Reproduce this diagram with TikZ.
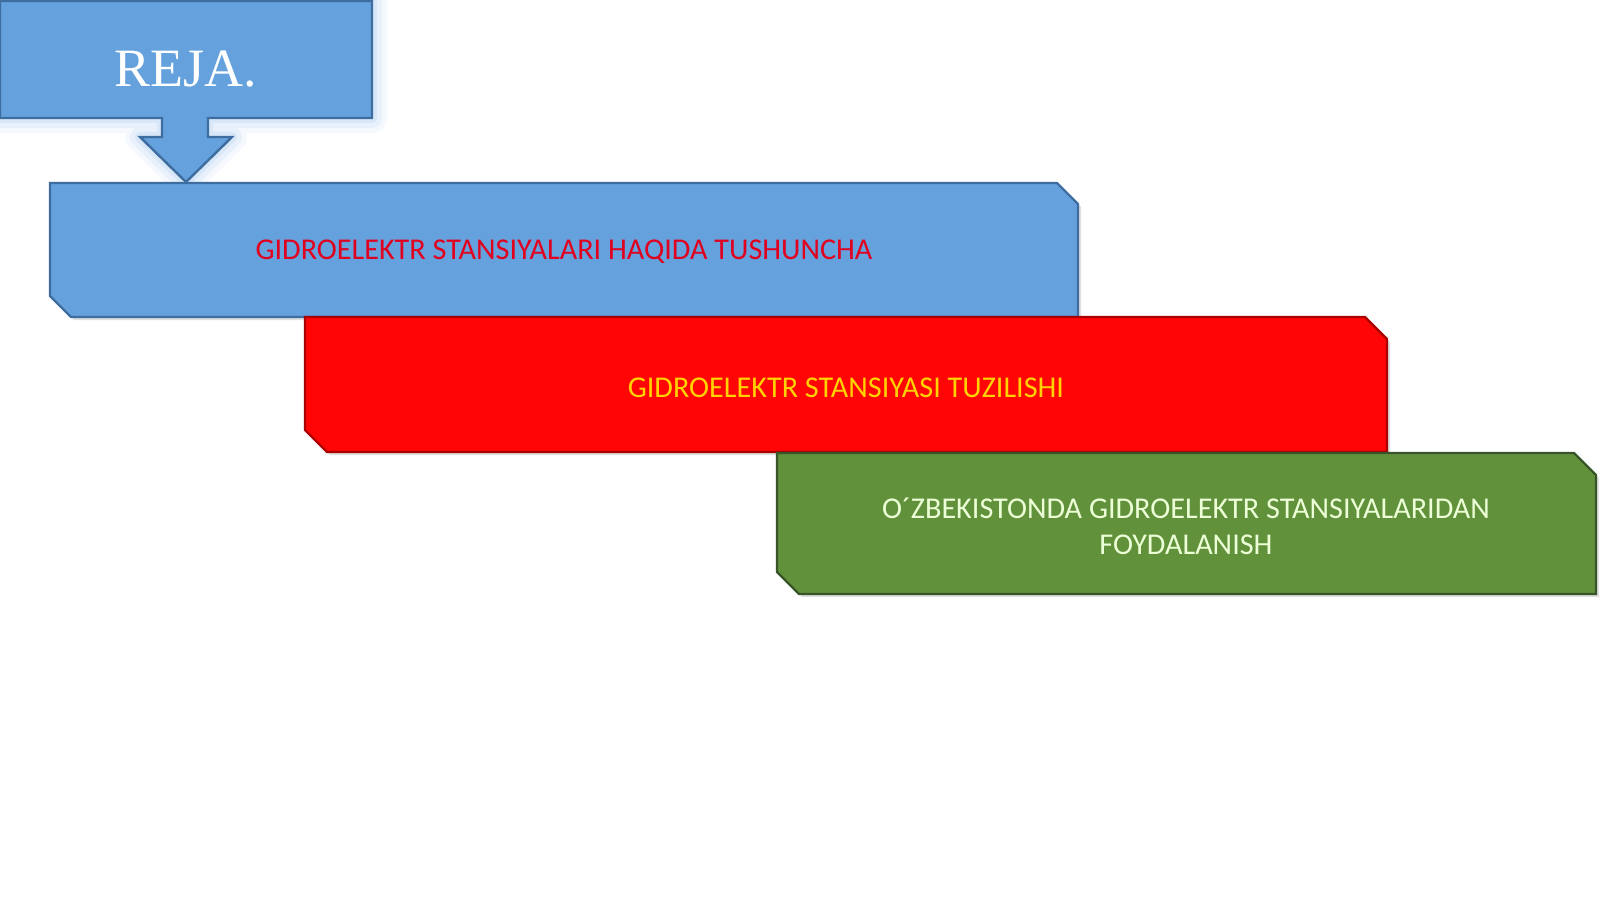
\documentclass[tikz,border=0pt]{standalone}
\usepackage{fontspec}
\setmainfont{Carlito}
\newfontfamily\rejafont{Liberation Serif}
\usetikzlibrary{shadows}
\definecolor{bluefill}{RGB}{100,161,221}
\definecolor{blueedge}{RGB}{62,110,160}
\definecolor{redfill}{RGB}{255,5,5}
\definecolor{rededge}{RGB}{170,0,0}
\definecolor{greenfill}{RGB}{98,145,60}
\definecolor{greenedge}{RGB}{55,85,40}
\definecolor{bluetext}{RGB}{225,0,30}
\definecolor{redtext}{RGB}{255,210,0}
\definecolor{greentext}{RGB}{236,255,214}
\definecolor{glow}{RGB}{160,200,240}
\tikzset{
  planbox/.style={line width=1.2pt, line join=miter,
    drop shadow={opacity=0.25, shadow xshift=1.5pt, shadow yshift=-1.5pt}},
  boxtext/.style={align=center, inner sep=0pt, font=\fontsize{15.1}{18}\selectfont},
  rejatext/.style={font=\rejafont\fontsize{27}{30}\selectfont, text=white}
}
\begin{document}
\begin{tikzpicture}[x=0.5pt,y=-0.5pt]
\useasboundingbox (0,0) rectangle (1600,899);
\fill[white] (0,0) rectangle (1600,899);
% glow behind REJA callout
\foreach \w/\o in {30/0.10,20/0.15,10/0.22}{
  \draw[glow, line width=\w*0.5pt, opacity=\o, line join=round]
    (0,1) -- (372,1) -- (372,118) -- (208,118) -- (208,137) -- (232,137) -- (186,182)
    -- (140,137) -- (162,137) -- (162,118) -- (0,118) -- cycle;
}
\draw[fill=bluefill, draw=blueedge, line width=1.2pt]
    (0,1) -- (372,1) -- (372,118) -- (208,118) -- (208,137) -- (232,137) -- (186,182)
    -- (140,137) -- (162,137) -- (162,118) -- (0,118) -- cycle;
\node[rejatext] (reja) at (186,69) {REJA.};
% blue box
\draw[planbox, fill=bluefill, draw=blueedge]
  (50,183) -- (1057,183) -- (1078,204) -- (1078,317) -- (71,317) -- (50,296) -- cycle;
\node[boxtext, text=bluetext] (t1) at (564,252)
  {GIDROELEKTR STANSIYALARI HAQIDA TUSHUNCHA};
% red box
\draw[planbox, fill=redfill, draw=rededge]
  (305,317) -- (1365,317) -- (1387,339) -- (1387,452) -- (327,452) -- (305,430) -- cycle;
\node[boxtext, text=redtext] (t2) at (846,388)
  {GIDROELEKTR STANSIYASI TUZILISHI};
% green box
\draw[planbox, fill=greenfill, draw=greenedge]
  (777,453) -- (1574,453) -- (1596,475) -- (1596,594) -- (799,594) -- (777,572) -- cycle;
\node[boxtext, text=greentext] (t3) at (1186,526)
  {O´ZBEKISTONDA GIDROELEKTR STANSIYALARIDAN\\FOYDALANISH};
\end{tikzpicture}
\end{document}
